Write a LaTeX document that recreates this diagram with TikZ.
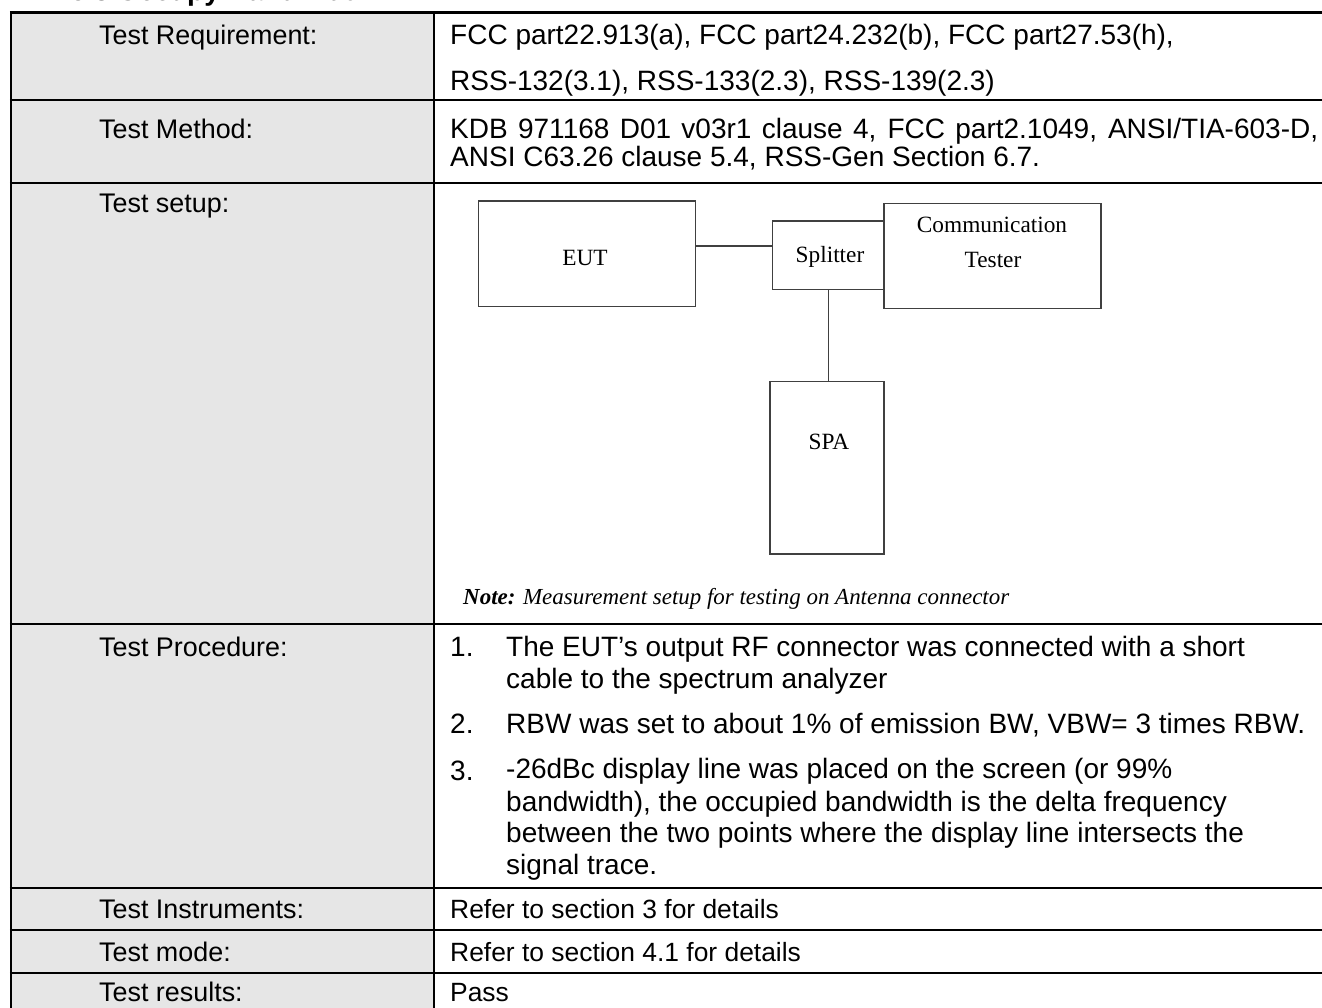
\documentclass[tikz,border=0pt]{standalone}
\usepackage{fontspec}
\setmainfont{Liberation Sans}
\newfontfamily\serifcm{Liberation Serif}
\usetikzlibrary{calc}
\definecolor{cellgray}{HTML}{E6E6E6}
\definecolor{boxgray}{HTML}{404040}
\begin{document}
\begin{tikzpicture}[x=1pt,y=-1pt,
  tx/.style={anchor=base west, inner sep=0pt, font=\fontsize{26.4}{31}\selectfont},
  lb/.style={anchor=base west, inner sep=0pt, font=\fontsize{26.9}{31}\selectfont},
  tb/.style={anchor=base west, inner sep=0pt, font=\fontsize{28}{31}\selectfont},
  gline/.style={line width=2.5pt},
  vline/.style={line width=1.6pt},
  box/.style={draw=boxgray, line width=1.4pt, rectangle, inner sep=0pt},
  dt/.style={anchor=base, inner sep=0pt, font=\serifcm\fontsize{23.3}{27}\selectfont},
  conn/.style={draw=boxgray, line width=1.4pt},
]
\useasboundingbox (0,0) rectangle (1322,1007);
\fill[white] (0,0) rectangle (1322,1007);
\begin{scope}
\clip (0,0) rectangle (1322,1007);
% clipped heading
\node[anchor=base east, inner sep=0pt, font=\bfseries\fontsize{28}{30}\selectfont] (title) at (371,0) {5.3 Occupy Bandwidth};
% left column fill
\fill[cellgray] (11,12) rectangle (434,1010);
% grid
\draw[gline] (11,11.5) -- (11,1010);
\draw[vline] (434,12) -- (434,1010);
\foreach \yy in {12.5,100,183,624,888,930,973}{
  \draw[gline] (9.8,\yy) -- (1325,\yy);
}
% left labels
\node[lb] (l1) at (99,44.5) {Test Requirement:};
\node[lb] (l2) at (99,138.5) {Test Method:};
\node[lb] (l3) at (99,212.5) {Test setup:};
\node[lb] (l4) at (99,656.5) {Test Procedure:};
\node[lb] (l5) at (99,918.5) {Test Instruments:};
\node[lb] (l6) at (99,961.5) {Test mode:};
\node[lb] (l7) at (99,1001.5) {Test results:};
% right texts
\node[tb] (r1a) at (450,44.5) {FCC part22.913(a), FCC part24.232(b), FCC part27.53(h),};
\node[tb] (r1b) at (450,90.5) {RSS-132(3.1), RSS-133(2.3), RSS-139(2.3)};
\node[tb] (r2a) at (450,138.5) {\makebox[868pt][s]{KDB 971168 D01 v03r1 clause 4, FCC part2.1049, ANSI/TIA-603-D,}};
\node[tb] (r2b) at (450,166.5) {ANSI C63.26 clause 5.4, RSS-Gen Section 6.7.};
% procedure
\node[tb] (n1) at (450,656.5) {1.};
\node[tb] (p1a) at (506,656.5) {The EUT’s output RF connector was connected with a short};
\node[tb] (p1b) at (506,688.5) {cable to the spectrum analyzer};
\node[tb] (n2) at (450,733.5) {2.};
\node[tb] (p2a) at (506,733.5) {RBW was set to about 1\% of emission BW, VBW= 3 times RBW.};
\node[tb] (n3) at (450,780.5) {3.};
\node[tb] (p3a) at (506,778.5) {-26dBc display line was placed on the screen (or 99\%};
\node[tb] (p3b) at (506,811.5) {bandwidth), the occupied bandwidth is the delta frequency};
\node[tb] (p3c) at (506,842.5) {between the two points where the display line intersects the};
\node[tb] (p3d) at (506,874.5) {signal trace.};
\node[tx] (r5) at (450,918.5) {Refer to section 3 for details};
\node[tx] (r6) at (450,961.5) {Refer to section 4.1 for details};
\node[tx] (r7) at (450,1001.5) {Pass};
% setup diagram
\node[box, minimum width=217pt, minimum height=105.7pt] (EUT) at (586.8,253.8) {};
\node[box, minimum width=112pt, minimum height=68.7pt] (Split) at (828.3,255.35) {};
\node[box, minimum width=217pt, minimum height=105.4pt] (Comm) at (992.5,256) {};
\node[box, minimum width=114pt, minimum height=172.3pt] (SPA) at (827,467.85) {};
\node[dt] (EUTt) at (585,265.5) {EUT};
\node[dt] (Splitt) at (830,262.5) {Splitter};
\node[dt] (Commt1) at (992,232.5) {Communication};
\node[dt] (Commt2) at (993,267.5) {Tester};
\node[dt] (SPAt) at (829,449.5) {SPA};
\coordinate (c1) at ($(EUT.east)+(0,-7.8)$);
\draw[conn] (c1) -- (c1 -| Split.west);
\draw[conn] (Split.south) -- (Split.south |- SPA.north);
\node[anchor=base west, inner sep=0pt, font=\serifcm\itshape\fontsize{22.95}{27}\selectfont] (note) at (463,604.5) {\textbf{Note:} Measurement setup for testing on Antenna connector};
\end{scope}
\end{tikzpicture}
\end{document}
